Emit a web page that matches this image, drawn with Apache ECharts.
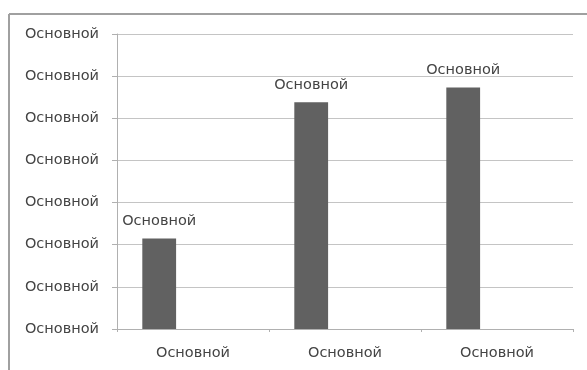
<!DOCTYPE html>
<html>
<head>
<meta charset="utf-8">
<script src="https://cdn.jsdelivr.net/npm/echarts@6/dist/echarts.min.js"></script>
<style>
html,body{margin:0;padding:0;background:#fff;}
#chart{width:587px;height:370px;}
</style>
</head>
<body>
<div id="chart"></div>
<script>
var categories = ['Основной', 'Основной', 'Основной'];
var seriesMain = [2.15, 5.38, 5.73];
var seriesEmpty2 = [null, null, null];
var seriesEmpty3 = [null, null, null];
var yTickLabel = 'Основной';
var dataLabel = 'Основной';

var FONT = 'DejaVu Sans';
var FS = 14.5;
var TXT = '#444444';
var chart = echarts.init(document.getElementById('chart'), null, {renderer: 'canvas'});
chart.setOption({
  animation: false,
  backgroundColor: '#ffffff',
  graphic: [
    {type: 'line', shape: {x1: 9, y1: 14, x2: 587, y2: 14}, style: {stroke: '#a0a0a0', lineWidth: 2}},
    {type: 'line', shape: {x1: 9, y1: 14, x2: 9, y2: 370}, style: {stroke: '#a0a0a0', lineWidth: 2}}
  ],
  grid: {left: 117, right: 14, top: 34, bottom: 41, containLabel: false},
  xAxis: {
    type: 'category',
    data: categories,
    boundaryGap: true,
    axisLine: {lineStyle: {color: '#b0b0b0', width: 1}},
    axisTick: {show: true, length: 3, lineStyle: {color: '#b0b0b0'}},
    axisLabel: {color: TXT, fontFamily: FONT, fontSize: FS, margin: 17}
  },
  yAxis: {
    type: 'value',
    min: 0, max: 7, interval: 1,
    axisLine: {show: true, lineStyle: {color: '#b0b0b0', width: 1}},
    axisTick: {show: true, length: 5, inside: false, lineStyle: {color: '#b0b0b0'}},
    splitLine: {show: true, lineStyle: {color: '#c4c4c4', width: 1}},
    axisLabel: {color: TXT, fontFamily: FONT, fontSize: FS, margin: 18,
      formatter: function () { return yTickLabel; }}
  },
  series: [
    {type: 'bar', name: 'A', data: seriesMain, barGap: '0%', barCategoryGap: '33.3%',
      itemStyle: {color: '#616161'},
      label: {show: true, position: 'top', distance: 10, color: TXT, fontFamily: FONT, fontSize: FS,
        formatter: function () { return dataLabel; }}},
    {type: 'bar', name: 'B', data: seriesEmpty2, barGap: '0%', barCategoryGap: '33.3%'},
    {type: 'bar', name: 'C', data: seriesEmpty3, barGap: '0%', barCategoryGap: '33.3%'}
  ]
});
</script>
</body>
</html>
